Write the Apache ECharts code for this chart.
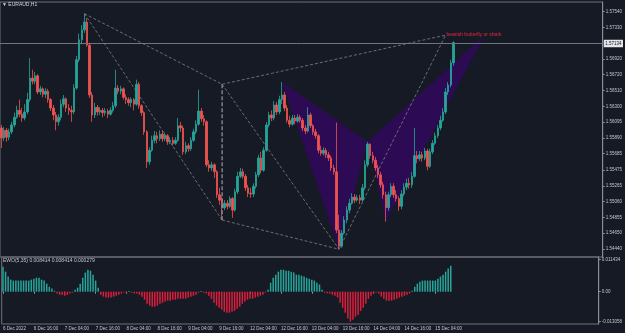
<!DOCTYPE html>
<html>
<head>
<meta charset="utf-8">
<script src="https://cdn.jsdelivr.net/npm/echarts@6/dist/echarts.min.js"></script>
<style>
html, body { margin: 0; padding: 0; background: #161a25; }
#main { width: 625px; height: 333px; }
</style>
</head>
<body>
<div id="main"></div>
<script>
// EURAUD H1, 6 Dec 2022 04:00 .. 15 Dec 10:00 (175 bars)
const opens = [
  1.5602, 1.5589, 1.5599, 1.5590, 1.5597, 1.5606, 1.5616, 1.5625, 1.5620, 1.5615,
  1.5623, 1.5639, 1.5667, 1.5663, 1.5670, 1.5649, 1.5653, 1.5646, 1.5650, 1.5639,
  1.5628, 1.5619, 1.5610, 1.5616, 1.5633, 1.5640, 1.5628, 1.5625, 1.5623, 1.5654,
  1.5691, 1.5717, 1.5730, 1.5740, 1.5710, 1.5645, 1.5619, 1.5629, 1.5623, 1.5625,
  1.5622, 1.5624, 1.5620, 1.5625, 1.5631, 1.5654, 1.5650, 1.5653, 1.5642, 1.5639,
  1.5635, 1.5639, 1.5633, 1.5659, 1.5631, 1.5622, 1.5597, 1.5558, 1.5573, 1.5586,
  1.5592, 1.5588, 1.5594, 1.5588, 1.5592, 1.5584, 1.5586, 1.5582, 1.5586, 1.5605,
  1.5602, 1.5571, 1.5579, 1.5575, 1.5586, 1.5597, 1.5607, 1.5624, 1.5614, 1.5610,
  1.5554, 1.5550, 1.5554, 1.5545, 1.5515, 1.5508, 1.5498, 1.5504, 1.5500, 1.5510,
  1.5495, 1.5519, 1.5539, 1.5545, 1.5539, 1.5524, 1.5517, 1.5516, 1.5526, 1.5541,
  1.5563, 1.5547, 1.5573, 1.5606, 1.5619, 1.5615, 1.5632, 1.5623, 1.5639, 1.5645,
  1.5628, 1.5612, 1.5607, 1.5615, 1.5611, 1.5616, 1.5612, 1.5602, 1.5598, 1.5619,
  1.5605, 1.5597, 1.5592, 1.5573, 1.5569, 1.5573, 1.5567, 1.5563, 1.5550, 1.5545,
  1.5469, 1.5448, 1.5465, 1.5482, 1.5495, 1.5504, 1.5512, 1.5508, 1.5511, 1.5508,
  1.5524, 1.5554, 1.5581, 1.5566, 1.5560, 1.5550, 1.5541, 1.5528, 1.5515, 1.5498,
  1.5515, 1.5526, 1.5515, 1.5510, 1.5500, 1.5516, 1.5525, 1.5530, 1.5528, 1.5539,
  1.5566, 1.5562, 1.5567, 1.5563, 1.5572, 1.5552, 1.5571, 1.5582, 1.5592, 1.5602,
  1.5612, 1.5623, 1.5649, 1.5658, 1.5687
];
const closes = [
  1.5589, 1.5599, 1.5590, 1.5597, 1.5606, 1.5616, 1.5625, 1.5620, 1.5615, 1.5623,
  1.5639, 1.5667, 1.5663, 1.5670, 1.5649, 1.5653, 1.5646, 1.5650, 1.5639, 1.5628,
  1.5619, 1.5610, 1.5616, 1.5633, 1.5640, 1.5628, 1.5625, 1.5623, 1.5654, 1.5691,
  1.5717, 1.5730, 1.5740, 1.5710, 1.5645, 1.5619, 1.5629, 1.5623, 1.5625, 1.5622,
  1.5624, 1.5620, 1.5625, 1.5631, 1.5654, 1.5650, 1.5653, 1.5642, 1.5639, 1.5635,
  1.5639, 1.5633, 1.5659, 1.5631, 1.5622, 1.5597, 1.5558, 1.5573, 1.5586, 1.5592,
  1.5588, 1.5594, 1.5588, 1.5592, 1.5584, 1.5586, 1.5582, 1.5586, 1.5605, 1.5602,
  1.5571, 1.5579, 1.5575, 1.5586, 1.5597, 1.5607, 1.5624, 1.5614, 1.5610, 1.5554,
  1.5550, 1.5554, 1.5545, 1.5515, 1.5508, 1.5498, 1.5504, 1.5500, 1.5510, 1.5495,
  1.5519, 1.5539, 1.5545, 1.5539, 1.5524, 1.5517, 1.5516, 1.5526, 1.5541, 1.5563,
  1.5547, 1.5573, 1.5606, 1.5619, 1.5615, 1.5632, 1.5623, 1.5639, 1.5645, 1.5628,
  1.5612, 1.5607, 1.5615, 1.5611, 1.5616, 1.5612, 1.5602, 1.5598, 1.5619, 1.5605,
  1.5597, 1.5592, 1.5573, 1.5569, 1.5573, 1.5567, 1.5563, 1.5550, 1.5545, 1.5469,
  1.5448, 1.5465, 1.5482, 1.5495, 1.5504, 1.5512, 1.5508, 1.5511, 1.5508, 1.5524,
  1.5554, 1.5581, 1.5566, 1.5560, 1.5550, 1.5541, 1.5528, 1.5515, 1.5498, 1.5515,
  1.5526, 1.5515, 1.5510, 1.5500, 1.5516, 1.5525, 1.5530, 1.5528, 1.5539, 1.5566,
  1.5562, 1.5567, 1.5563, 1.5572, 1.5552, 1.5571, 1.5582, 1.5592, 1.5602, 1.5612,
  1.5623, 1.5649, 1.5658, 1.5687, 1.57134
];
const lows = [
  1.5576, 1.5585, 1.5584, 1.5586, 1.5594, 1.5603, 1.5614, 1.5616, 1.5610, 1.5612,
  1.5620, 1.5636, 1.5659, 1.5659, 1.5646, 1.5645, 1.5642, 1.5641, 1.5635, 1.5624,
  1.5612, 1.5599, 1.5605, 1.5612, 1.5629, 1.5623, 1.5619, 1.5610, 1.5620, 1.5652,
  1.5688, 1.5711, 1.5726, 1.5708, 1.5641, 1.5610, 1.5615, 1.5618, 1.5619, 1.5616,
  1.5618, 1.5615, 1.5618, 1.5622, 1.5628, 1.5646, 1.5646, 1.5639, 1.5633, 1.5631,
  1.5629, 1.5625, 1.5631, 1.5627, 1.5618, 1.5593, 1.5550, 1.5554, 1.5571, 1.5582,
  1.5582, 1.5585, 1.5584, 1.5585, 1.5580, 1.5581, 1.5579, 1.5580, 1.5584, 1.5597,
  1.5567, 1.5568, 1.5571, 1.5572, 1.5584, 1.5594, 1.5605, 1.5610, 1.5605, 1.5551,
  1.5545, 1.5546, 1.5537, 1.5511, 1.5502, 1.5482, 1.5495, 1.5496, 1.5498, 1.5485,
  1.5493, 1.5516, 1.5537, 1.5536, 1.5520, 1.5512, 1.5511, 1.5512, 1.5523, 1.5538,
  1.5543, 1.5545, 1.5571, 1.5603, 1.5611, 1.5612, 1.5619, 1.5620, 1.5633, 1.5624,
  1.5609, 1.5603, 1.5605, 1.5607, 1.5609, 1.5609, 1.5598, 1.5594, 1.5596, 1.5602,
  1.5593, 1.5588, 1.5569, 1.5566, 1.5566, 1.5563, 1.5559, 1.5546, 1.5541, 1.5465,
  1.5444, 1.5446, 1.5463, 1.5478, 1.5491, 1.5502, 1.5504, 1.5506, 1.5503, 1.5506,
  1.5521, 1.5551, 1.5562, 1.5556, 1.5546, 1.5537, 1.5524, 1.5510, 1.5480, 1.5494,
  1.5512, 1.5511, 1.5506, 1.5494, 1.5496, 1.5513, 1.5521, 1.5523, 1.5524, 1.5537,
  1.5556, 1.5559, 1.5558, 1.5560, 1.5547, 1.5550, 1.5568, 1.5580, 1.5589, 1.5599,
  1.5610, 1.5620, 1.5645, 1.5655, 1.5683
];
const highs = [
  1.5606, 1.5603, 1.5602, 1.5601, 1.5610, 1.5622, 1.5631, 1.5639, 1.5628, 1.5633,
  1.5648, 1.5693, 1.5678, 1.5675, 1.5672, 1.5657, 1.5655, 1.5654, 1.5653, 1.5641,
  1.5632, 1.5623, 1.5620, 1.5639, 1.5645, 1.5642, 1.5633, 1.5631, 1.5659, 1.5696,
  1.5725, 1.5736, 1.5751, 1.5745, 1.5713, 1.5649, 1.5635, 1.5632, 1.5629, 1.5628,
  1.5628, 1.5627, 1.5629, 1.5636, 1.5678, 1.5658, 1.5657, 1.5655, 1.5646, 1.5642,
  1.5642, 1.5641, 1.5665, 1.5662, 1.5633, 1.5624, 1.5599, 1.5577, 1.5592, 1.5598,
  1.5597, 1.5599, 1.5598, 1.5596, 1.5594, 1.5590, 1.5590, 1.5590, 1.5615, 1.5610,
  1.5605, 1.5584, 1.5582, 1.5590, 1.5601, 1.5612, 1.5652, 1.5628, 1.5619, 1.5612,
  1.5560, 1.5558, 1.5556, 1.5547, 1.5524, 1.5513, 1.5508, 1.5508, 1.5513, 1.5512,
  1.5523, 1.5545, 1.5550, 1.5549, 1.5542, 1.5528, 1.5524, 1.5530, 1.5545, 1.5567,
  1.5571, 1.5577, 1.5610, 1.5623, 1.5625, 1.5637, 1.5636, 1.5644, 1.5662, 1.5649,
  1.5632, 1.5618, 1.5619, 1.5619, 1.5620, 1.5619, 1.5615, 1.5606, 1.5629, 1.5622,
  1.5607, 1.5601, 1.5594, 1.5579, 1.5577, 1.5576, 1.5571, 1.5566, 1.5554, 1.5609,
  1.5489, 1.5469, 1.5487, 1.5500, 1.5510, 1.5517, 1.5516, 1.5515, 1.5515, 1.5529,
  1.5560, 1.5584, 1.5582, 1.5571, 1.5564, 1.5554, 1.5545, 1.5532, 1.5519, 1.5519,
  1.5530, 1.5530, 1.5521, 1.5513, 1.5521, 1.5530, 1.5536, 1.5537, 1.5545, 1.5602,
  1.5572, 1.5572, 1.5571, 1.5576, 1.5575, 1.5575, 1.5586, 1.5596, 1.5606, 1.5618,
  1.5628, 1.5654, 1.5662, 1.5691, 1.5715
];
// EWO(5,35) histogram, one value per bar
const ewo = [
  0.0081, 0.0065, 0.0049, 0.0039, 0.0036, 0.0036, 0.0036, 0.0036, 0.0036, 0.0036,
  0.0036, 0.0039, 0.0042, 0.0045, 0.0045, 0.0039, 0.0036, 0.0026, 0.0016, 0.0010,
  0.0003, -0.0006, -0.0010, -0.0010, -0.0013, -0.0010, -0.0006, -0.0003, 0.0006, 0.0013,
  0.0026, 0.0045, 0.0062, 0.0071, 0.0068, 0.0055, 0.0036, 0.0013, -0.0010, -0.0016,
  -0.0019, -0.0019, -0.0019, -0.0016, -0.0013, -0.0010, -0.0006, -0.0003, -0.0003, 0.0002,
  -0.0003, -0.0006, -0.0006, -0.0010, -0.0016, -0.0026, -0.0039, -0.0045, -0.0049, -0.0049,
  -0.0045, -0.0039, -0.0036, -0.0032, -0.0029, -0.0029, -0.0026, -0.0026, -0.0023, -0.0023,
  -0.0023, -0.0023, -0.0019, -0.0016, -0.0013, -0.0010, -0.0003, 0.0002, -0.0003, -0.0006,
  -0.0013, -0.0023, -0.0036, -0.0045, -0.0052, -0.0058, -0.0065, -0.0068, -0.0068, -0.0065,
  -0.0062, -0.0055, -0.0049, -0.0039, -0.0032, -0.0026, -0.0023, -0.0023, -0.0019, -0.0016,
  -0.0013, -0.0010, -0.0003, 0.0006, 0.0029, 0.0045, 0.0055, 0.0065, 0.0071, 0.0071,
  0.0068, 0.0068, 0.0065, 0.0062, 0.0055, 0.0055, 0.0052, 0.0049, 0.0045, 0.0042,
  0.0039, 0.0036, 0.0029, 0.0023, 0.0006, -0.0003, -0.0005, -0.0006, -0.0010, -0.0013,
  -0.0019, -0.0036, -0.0052, -0.0068, -0.0087, -0.0097, -0.0091, -0.0081, -0.0075, -0.0062,
  -0.0052, -0.0039, -0.0023, -0.0013, -0.0006, -0.0003, -0.0006, -0.0016, -0.0023, -0.0029,
  -0.0029, -0.0029, -0.0026, -0.0023, -0.0019, -0.0016, -0.0013, -0.0010, -0.0006, 0.0003,
  0.0016, 0.0026, 0.0032, 0.0036, 0.0036, 0.0036, 0.0036, 0.0036, 0.0036, 0.0042,
  0.0049, 0.0055, 0.0065, 0.0075, 0.008414
];

// price scale labels on the right
const priceTicks = [1.5754, 1.5733, 1.5692, 1.5672, 1.5651, 1.5630, 1.56095, 1.5589,
  1.55685, 1.55475, 1.55265, 1.5506, 1.54855, 1.5465, 1.5444];
const lastPrice = 1.57134;
const ewoTicks = [0.0104, 0, -0.0097];
const ewoTickText = ['0.011434', '0.00', '-0.013058'];

// harmonic pattern X, A, B, C, D (bar index, price)
const bflyIdx = [108, 130, 141, 148, 186];
const bflyPrice = [1.5662, 1.5444, 1.5584, 1.5480, 1.5723];
// dashed construction lines: top, upper pivot, low, A, apex
const frameIdx = [32, 85, 85, 130, 171];
const framePrice = [1.5751, 1.5659, 1.5482, 1.5444, 1.5723];
const patternLabel = 'bearish butterfly or shark';

const BG = '#161a25';
const UP = '#26a69a';
const DOWN = '#ef5350';
const FONT = 'Liberation Sans';
const SLOTS = 232;

// hourly time labels, weekend skipped
const months = ['Jan', 'Feb', 'Mar', 'Apr', 'May', 'Jun', 'Jul', 'Aug', 'Sep', 'Oct', 'Nov', 'Dec'];
const cats = [];
let t = Date.UTC(2022, 11, 6, 4);
while (cats.length < closes.length) {
  const d = new Date(t);
  const wd = d.getUTCDay();
  if (wd !== 0 && wd !== 6) {
    const hh = String(d.getUTCHours()).padStart(2, '0');
    cats.push(cats.length === 0
      ? d.getUTCDate() + ' ' + months[d.getUTCMonth()] + ' ' + d.getUTCFullYear()
      : d.getUTCDate() + ' ' + months[d.getUTCMonth()] + ' ' + hh + ':00');
  }
  t += 3600000;
}
for (let i = cats.length; i < SLOTS; i++) cats.push('f' + i);

const showTime = (i) => i % 12 === 0 && i < closes.length;
const candles = closes.map((c, i) => [opens[i], c, lows[i], highs[i]]);

const chart = echarts.init(document.getElementById('main'));

chart.setOption({
  backgroundColor: BG,
  animation: false,
  textStyle: { fontFamily: FONT },
  grid: [
    { left: 0, right: 21, top: 2, height: 255, show: true, borderColor: '#6e717a', borderWidth: 1 },
    { left: 0, right: 21, top: 257, height: 67, show: true, borderColor: '#6e717a', borderWidth: 1 }
  ],
  xAxis: [
    {
      type: 'category', gridIndex: 0, data: cats, boundaryGap: true,
      axisLine: { show: false }, axisTick: { show: false }, axisLabel: { show: false },
      splitLine: { show: false }
    },
    {
      type: 'category', gridIndex: 1, data: cats, boundaryGap: true,
      axisLine: { show: false },
      axisTick: { show: true, interval: showTime, alignWithLabel: true, length: 2, lineStyle: { color: '#9598a1' } },
      axisLabel: { interval: showTime, align: 'left', margin: 2, fontSize: 4.5, color: '#c3c6ce', fontFamily: FONT },
      splitLine: { show: false }
    }
  ],
  yAxis: [
    {
      type: 'value', gridIndex: 0, position: 'right', min: 1.54339, max: 1.57662,
      axisLine: { show: true, lineStyle: { color: '#8b8e97' } },
      axisTick: { show: true, customValues: priceTicks, length: 2, lineStyle: { color: '#8b8e97' } },
      axisLabel: { customValues: priceTicks, formatter: (v) => v.toFixed(5), fontSize: 4.5, color: '#c3c6ce', margin: 3, fontFamily: FONT },
      splitLine: { show: false }
    },
    {
      type: 'value', gridIndex: 1, position: 'right', min: -0.01047, max: 0.01124,
      axisLine: { show: true, lineStyle: { color: '#8b8e97' } },
      axisTick: { show: true, customValues: ewoTicks, length: 2, lineStyle: { color: '#8b8e97' } },
      axisLabel: {
        customValues: ewoTicks, fontSize: 4.5, color: '#c3c6ce', margin: 3, fontFamily: FONT,
        formatter: (v) => {
          let k = 0;
          ewoTicks.forEach((e, j) => { if (Math.abs(e - v) < Math.abs(ewoTicks[k] - v)) k = j; });
          return ewoTickText[k];
        }
      },
      splitLine: { show: false }
    }
  ],
  graphic: [
    { type: 'text', left: 2, top: 2, style: { text: '▼ EURAUD,H1', fill: '#d1d4dc', fontSize: 5, fontFamily: FONT } },
    { type: 'text', left: 3, top: 258, style: { text: 'EWO(5,35) 0.008414 0.008414 0.000279', fill: '#c3c6ce', fontSize: 5, fontFamily: FONT } }
  ],
  series: [
    {
      // filled triangles of the pattern, under the candles
      type: 'custom', xAxisIndex: 0, yAxisIndex: 0, silent: true, z: 1, clip: false,
      data: [[0, 1.56]],
      renderItem: (params, api) => {
        const b = bflyIdx.map((v, k) => api.coord([v, bflyPrice[k]]));
        const fill = '#2c0a54';
        return {
          type: 'group',
          children: [
            { type: 'polygon', shape: { points: [b[0], b[1], b[2]] }, style: { fill: fill } },
            { type: 'polygon', shape: { points: [b[2], b[3], b[4]] }, style: { fill: fill } }
          ]
        };
      }
    },
    {
      type: 'candlestick', xAxisIndex: 0, yAxisIndex: 0, z: 3,
      data: candles,
      barWidth: 2,
      itemStyle: { color: UP, color0: DOWN, borderColor: UP, borderColor0: DOWN, borderWidth: 0.8 }
    },
    {
      // dashed construction lines, pattern name, last price line and tag
      type: 'custom', xAxisIndex: 0, yAxisIndex: 0, silent: true, z: 4, clip: false,
      data: [[0, 1.56]],
      renderItem: (params, api) => {
        const f = frameIdx.map((v, k) => api.coord([v, framePrice[k]]));
        const d = api.coord([bflyIdx[4], bflyPrice[4]]);
        const cs = params.coordSys;
        const py = Math.round(api.coord([0, lastPrice])[1]) + 0.5;
        const seg = (p, q, w, c, dash) => ({
          type: 'line', shape: { x1: p[0], y1: p[1], x2: q[0], y2: q[1] },
          style: { stroke: c, lineWidth: w, lineDash: dash }
        });
        const g = '#7e8189';
        return {
          type: 'group',
          children: [
            { type: 'line', shape: { x1: cs.x, y1: py, x2: cs.x + cs.width, y2: py }, style: { stroke: '#70747e', lineWidth: 1 } },
            {
              type: 'text', x: cs.x + cs.width + 1, y: py,
              style: {
                text: lastPrice.toFixed(5), fill: '#131722', backgroundColor: '#e4e5e8',
                padding: [1.5, 1.5, 1, 1.5], fontSize: 4.5, fontFamily: FONT, align: 'left', verticalAlign: 'middle'
              }
            },
            seg(f[0], f[1], 0.8, g, [3, 2]),
            seg(f[0], f[2], 0.8, g, [3, 2]),
            seg(f[1], f[2], 1.3, '#8c8f97', [4, 2]),
            seg(f[1], f[3], 0.8, g, [3, 2]),
            seg(f[2], f[3], 0.8, g, [3, 2]),
            seg(f[1], f[4], 0.8, g, [3, 2]),
            seg(f[3], f[4], 0.8, g, [3, 2]),
            {
              type: 'text', x: d[0] - 38, y: d[1] - 1,
              style: { text: patternLabel, fill: '#e8283f', fontSize: 5, fontFamily: FONT, align: 'left', verticalAlign: 'middle' }
            }
          ]
        };
      }
    },
    {
      type: 'bar', xAxisIndex: 1, yAxisIndex: 1,
      data: ewo, barWidth: 1.5,
      itemStyle: { color: (p) => (p.value >= 0 ? '#26a69a' : '#dc1e3c') }
    }
  ]
});
</script>
</body>
</html>
